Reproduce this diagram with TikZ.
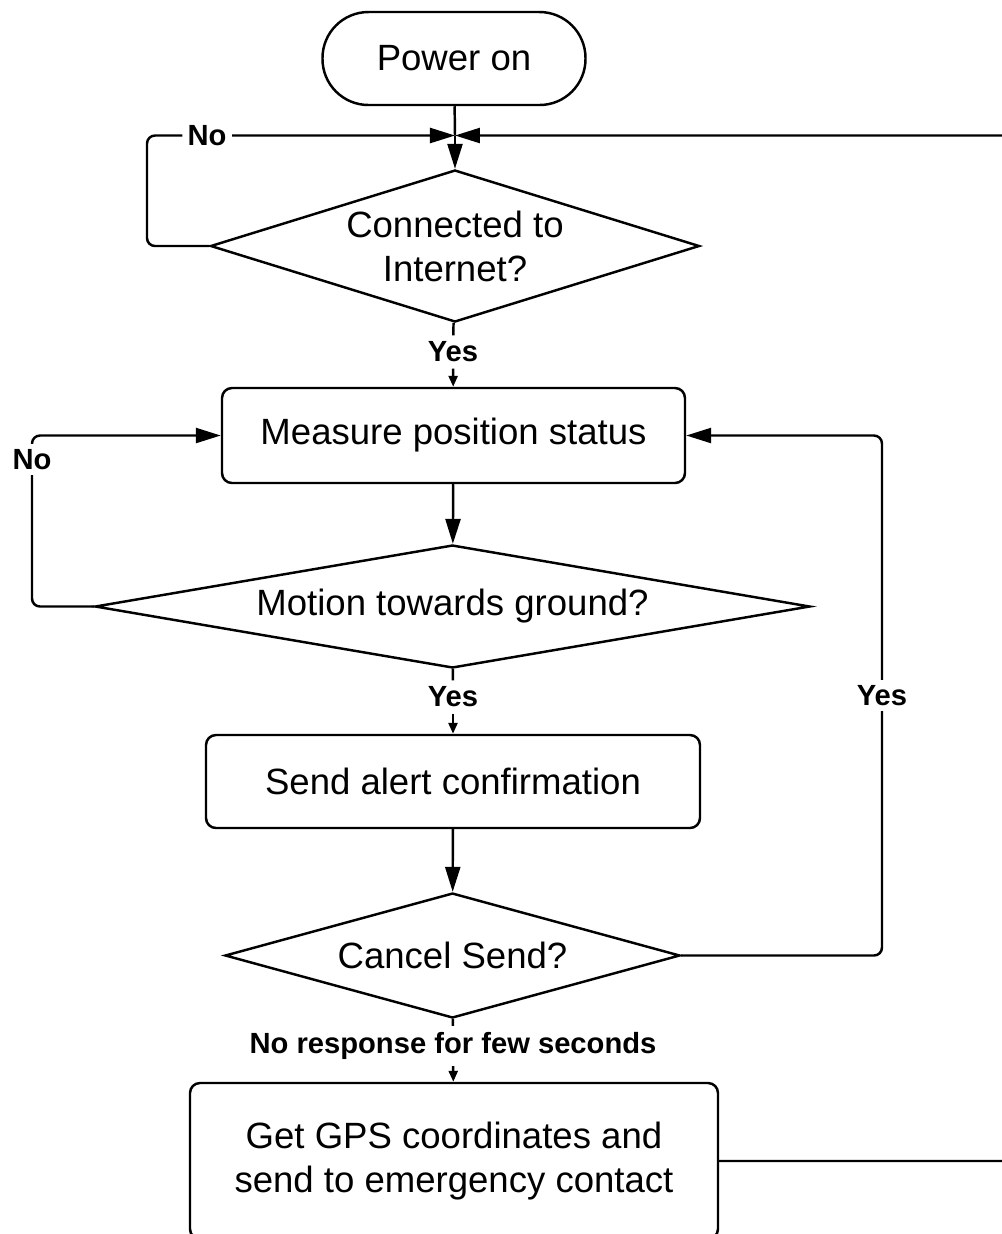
\documentclass[tikz,border=0pt]{standalone}
\usepackage{fontspec}
\setmainfont{Liberation Sans}
\usetikzlibrary{shapes.geometric,arrows.meta}
\tikzstyle{terminal}=[draw,rectangle,rounded corners=4.6mm,minimum width=2.63cm,minimum height=0.93cm,inner sep=0pt,font=\fontsize{10.4}{12.5}\selectfont]
\tikzstyle{process}=[draw,rectangle,rounded corners=1mm,inner sep=0pt,align=center,font=\fontsize{10.4}{12.5}\selectfont]
\tikzstyle{decision}=[draw,diamond,inner sep=0pt,align=center,font=\fontsize{10.4}{12.5}\selectfont]
\tikzstyle{lbl}=[fill=white,inner sep=1.5pt,font=\fontsize{8.3}{10}\selectfont\bfseries]
\tikzstyle{arrowline}=[-{Triangle[length=2.5mm,width=1.5mm]}]
\tikzstyle{shorttip}=[-{Triangle[length=1.1mm,width=0.9mm]}]

\begin{document}
\begin{tikzpicture}[line width=0.7pt]
\useasboundingbox (0,0) rectangle (10.02,-12.34);
\clip (0,0) rectangle (10.02,-12.34);
\node[terminal] at (4.54,-0.585) (power) {Power on};
\coordinate (join) at (4.55,-1.355);
\node[decision,minimum width=4.89cm,minimum height=1.52cm,aspect=3.2] at (4.55,-2.46) (conn) {Connected to\\Internet?};
\node[lbl] at (4.53,-3.52) (yes1) {Yes};
\node[process,minimum width=4.63cm,minimum height=0.95cm] at (4.535,-4.355) (measure) {Measure position status};
\node[decision,minimum width=7.15cm,minimum height=1.23cm,aspect=5.8] at (4.525,-6.065) (motion) {Motion towards ground?};
\node[lbl] at (4.53,-6.97) (yes2) {Yes};
\node[process,minimum width=4.94cm,minimum height=0.93cm] at (4.53,-7.815) (alert) {Send alert confirmation};
\node[decision,minimum width=4.55cm,minimum height=1.25cm,aspect=3.64] at (4.525,-9.555) (cancel) {Cancel Send?};
\node[lbl] at (4.53,-10.46) (noresp) {No response for few seconds};
\node[process,minimum width=5.28cm,minimum height=1.56cm] at (4.54,-11.61) (gps) {Get GPS coordinates and\\send to emergency contact};
\coordinate (left1) at (1.47,-1.355);
\coordinate (left2) at (0.32,-4.355);
\coordinate (right1) at (8.82,-4.355);
\coordinate (right2) at (10.3,-1.355);
% main flow
\draw (power) -- (join);
\draw[arrowline] (join) -- (conn);
\draw (conn) -- (yes1);
\draw[shorttip] (yes1) -- (measure);
\draw[arrowline] (measure) -- (motion);
\draw (motion) -- (yes2);
\draw[shorttip] (yes2) -- (alert);
\draw[arrowline] (alert) -- (cancel);
\draw (cancel) -- (noresp);
\draw[shorttip] (noresp) -- (gps);
% loops
\draw[arrowline,rounded corners=0.8mm] (conn.west) -| (left1) -- node[lbl,pos=0.195] {No} (join);
\draw[arrowline,rounded corners=0.8mm] (motion.west) -| node[lbl,pos=0.93] {No} (left2) -- (measure.west);
\draw[arrowline,rounded corners=0.8mm] (cancel.east) -| node[lbl,pos=0.75] {Yes} (right1) -- (measure.east);
\draw[arrowline,rounded corners=0.8mm] (gps.east) -| (right2) -- (join);
\end{tikzpicture}
\end{document}
